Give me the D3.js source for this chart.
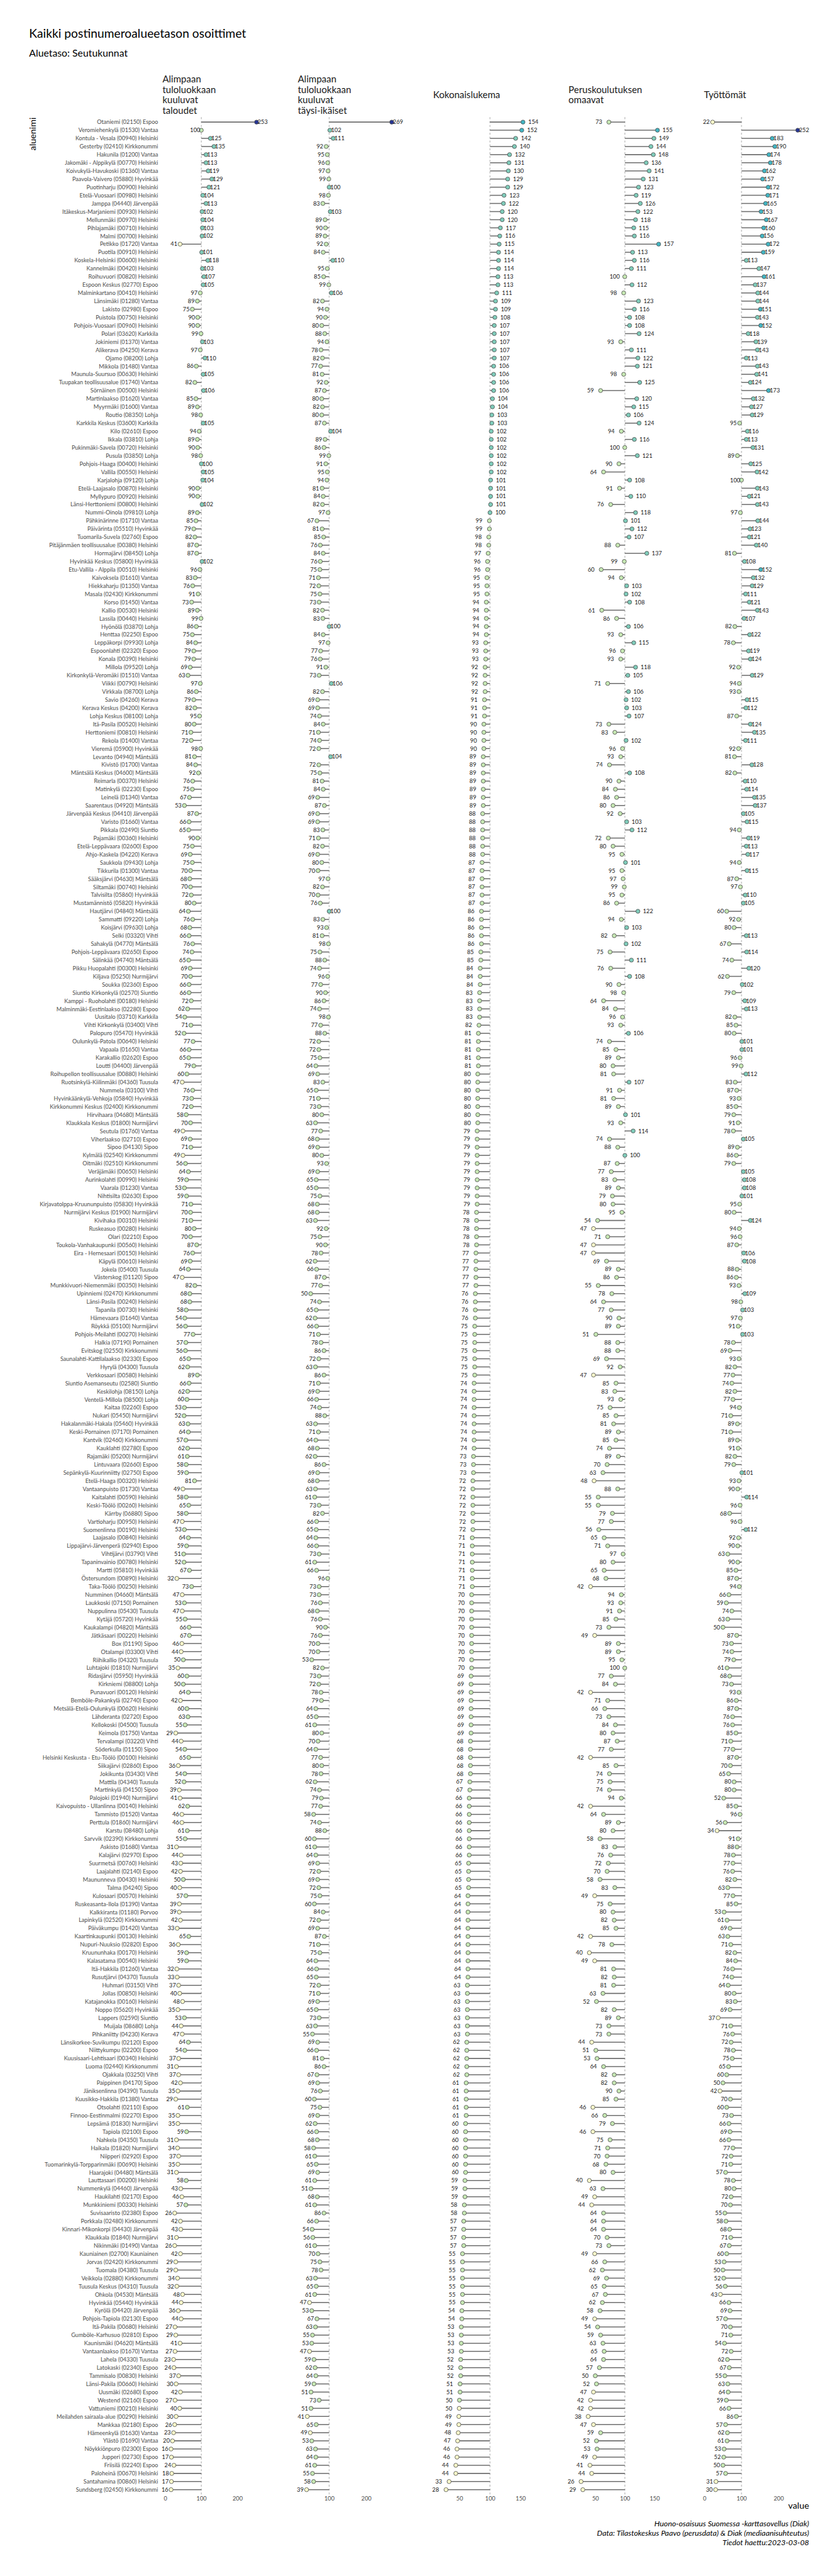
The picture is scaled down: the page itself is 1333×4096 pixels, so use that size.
<!DOCTYPE html>
<html><head><meta charset="utf-8">
<script src="https://cdn.jsdelivr.net/npm/d3@7"></script>
<style>
html,body{margin:0;padding:0;background:#fff;}
svg{display:block;font-family:Lato,"Noto Sans",sans-serif;}
</style></head><body>
<svg id="chart" width="1333" height="4096"></svg>
<script>
// ---------- DATA ----------
const names = [
"Otaniemi (02150) Espoo","Veromiehenkylä (01530) Vantaa","Kontula - Vesala (00940) Helsinki","Gesterby (02410) Kirkkonummi","Hakunila (01200) Vantaa","Jakomäki - Alppikylä (00770) Helsinki","Koivukylä-Havukoski (01360) Vantaa","Paavola-Vaivero (05880) Hyvinkää","Puotinharju (00900) Helsinki","Etelä-Vuosaari (00980) Helsinki",
"Jamppa (04440) Järvenpää","Itäkeskus-Marjaniemi (00930) Helsinki","Mellunmäki (00970) Helsinki","Pihlajamäki (00710) Helsinki","Malmi (00700) Helsinki","Petikko (01720) Vantaa","Puotila (00910) Helsinki","Koskela-Helsinki (00600) Helsinki","Kannelmäki (00420) Helsinki","Roihuvuori (00820) Helsinki",
"Espoon Keskus (02770) Espoo","Malminkartano (00410) Helsinki","Länsimäki (01280) Vantaa","Lakisto (02980) Espoo","Puistola (00750) Helsinki","Pohjois-Vuosaari (00960) Helsinki","Polari (03620) Karkkila","Jokiniemi (01370) Vantaa","Alikerava (04250) Kerava","Ojamo (08200) Lohja",
"Mikkola (01480) Vantaa","Maunula-Suursuo (00630) Helsinki","Tuupakan teollisuusalue (01740) Vantaa","Sörnäinen (00500) Helsinki","Martinlaakso (01620) Vantaa","Myyrmäki (01600) Vantaa","Routio (08350) Lohja","Karkkila Keskus (03600) Karkkila","Kilo (02610) Espoo","Ikkala (03810) Lohja",
"Pukinmäki-Savela (00720) Helsinki","Pusula (03850) Lohja","Pohjois-Haaga (00400) Helsinki","Vallila (00550) Helsinki","Karjalohja (09120) Lohja","Etelä-Laajasalo (00870) Helsinki","Myllypuro (00920) Helsinki","Länsi-Herttoniemi (00800) Helsinki","Nummi-Oinola (09810) Lohja","Pähkinärinne (01710) Vantaa",
"Päivärinta (05510) Hyvinkää","Tuomarila-Suvela (02760) Espoo","Pitäjänmäen teollisuusalue (00380) Helsinki","Hormajärvi (08450) Lohja","Hyvinkää Keskus (05800) Hyvinkää","Etu-Vallila - Alppila (00510) Helsinki","Kaivoksela (01610) Vantaa","Hiekkaharju (01350) Vantaa","Masala (02430) Kirkkonummi","Korso (01450) Vantaa",
"Kallio (00530) Helsinki","Lassila (00440) Helsinki","Hyönölä (03870) Lohja","Henttaa (02250) Espoo","Leppäkorpi (09930) Lohja","Espoonlahti (02320) Espoo","Konala (00390) Helsinki","Millola (09520) Lohja","Kirkonkylä-Veromäki (01510) Vantaa","Viikki (00790) Helsinki",
"Virkkala (08700) Lohja","Savio (04260) Kerava","Kerava Keskus (04200) Kerava","Lohja Keskus (08100) Lohja","Itä-Pasila (00520) Helsinki","Herttoniemi (00810) Helsinki","Rekola (01400) Vantaa","Vieremä (05900) Hyvinkää","Levanto (04940) Mäntsälä","Kivistö (01700) Vantaa",
"Mäntsälä Keskus (04600) Mäntsälä","Reimarla (00370) Helsinki","Matinkylä (02230) Espoo","Leinelä (01340) Vantaa","Saarentaus (04920) Mäntsälä","Järvenpää Keskus (04410) Järvenpää","Varisto (01660) Vantaa","Pikkala (02490) Siuntio","Pajamäki (00360) Helsinki","Etelä-Leppävaara (02600) Espoo",
"Ahjo-Kaskela (04220) Kerava","Saukkola (09430) Lohja","Tikkurila (01300) Vantaa","Sääksjärvi (04630) Mäntsälä","Siltamäki (00740) Helsinki","Talvisilta (05860) Hyvinkää","Mustamännistö (05820) Hyvinkää","Hautjärvi (04840) Mäntsälä","Sammatti (09220) Lohja","Koisjärvi (09630) Lohja",
"Selki (03320) Vihti","Sahakylä (04770) Mäntsälä","Pohjois-Leppävaara (02650) Espoo","Sälinkää (04740) Mäntsälä","Pikku Huopalahti (00300) Helsinki","Kiljava (05250) Nurmijärvi","Soukka (02360) Espoo","Siuntio Kirkonkylä (02570) Siuntio","Kamppi - Ruoholahti (00180) Helsinki","Malminmäki-Eestinlaakso (02280) Espoo",
"Uusitalo (03710) Karkkila","Vihti Kirkonkylä (03400) Vihti","Palopuro (05470) Hyvinkää","Oulunkylä-Patola (00640) Helsinki","Vapaala (01650) Vantaa","Karakallio (02620) Espoo","Loutti (04400) Järvenpää","Roihupellon teollisuusalue (00880) Helsinki","Ruotsinkylä-Kiilinmäki (04360) Tuusula","Nummela (03100) Vihti",
"Hyvinkäänkylä-Vehkoja (05840) Hyvinkää","Kirkkonummi Keskus (02400) Kirkkonummi","Hirvihaara (04680) Mäntsälä","Klaukkala Keskus (01800) Nurmijärvi","Seutula (01760) Vantaa","Viherlaakso (02710) Espoo","Sipoo (04130) Sipoo","Kylmälä (02540) Kirkkonummi","Oitmäki (02510) Kirkkonummi","Veräjämäki (00650) Helsinki",
"Aurinkolahti (00990) Helsinki","Vaarala (01230) Vantaa","Nihtisilta (02630) Espoo","Kirjavatolppa-Kruununpuisto (05830) Hyvinkää","Nurmijärvi Keskus (01900) Nurmijärvi","Kivihaka (00310) Helsinki","Ruskeasuo (00280) Helsinki","Olari (02210) Espoo","Toukola-Vanhakaupunki (00560) Helsinki","Eira - Hernesaari (00150) Helsinki",
"Käpylä (00610) Helsinki","Jokela (05400) Tuusula","Västerskog (01120) Sipoo","Munkkivuori-Niemenmäki (00350) Helsinki","Upinniemi (02470) Kirkkonummi","Länsi-Pasila (00240) Helsinki","Tapanila (00730) Helsinki","Hämevaara (01640) Vantaa","Röykkä (05100) Nurmijärvi","Pohjois-Meilahti (00270) Helsinki",
"Halkia (07190) Pornainen","Evitskog (02550) Kirkkonummi","Saunalahti-Kattilalaakso (02330) Espoo","Hyrylä (04300) Tuusula","Verkkosaari (00580) Helsinki","Siuntio Asemanseutu (02580) Siuntio","Keskilohja (08150) Lohja","Ventelä-Millola (08500) Lohja","Kaitaa (02260) Espoo","Nukari (05450) Nurmijärvi",
"Hakalanmäki-Hakala (05460) Hyvinkää","Keski-Pornainen (07170) Pornainen","Kantvik (02460) Kirkkonummi","Kauklahti (02780) Espoo","Rajamäki (05200) Nurmijärvi","Lintuvaara (02660) Espoo","Sepänkylä-Kuurinniitty (02750) Espoo","Etelä-Haaga (00320) Helsinki","Vantaanpuisto (01730) Vantaa","Kaitalahti (00590) Helsinki",
"Keski-Töölö (00260) Helsinki","Kärrby (06880) Sipoo","Vartioharju (00950) Helsinki","Suomenlinna (00190) Helsinki","Laajasalo (00840) Helsinki","Lippajärvi-Järvenperä (02940) Espoo","Vihtijärvi (03790) Vihti","Tapaninvainio (00780) Helsinki","Martti (05810) Hyvinkää","Östersundom (00890) Helsinki",
"Taka-Töölö (00250) Helsinki","Numminen (04660) Mäntsälä","Laukkoski (07150) Pornainen","Nuppulinna (05430) Tuusula","Kytäjä (05720) Hyvinkää","Kaukalampi (04820) Mäntsälä","Jätkäsaari (00220) Helsinki","Box (01190) Sipoo","Otalampi (03300) Vihti","Riihikallio (04320) Tuusula",
"Luhtajoki (01810) Nurmijärvi","Ridasjärvi (05950) Hyvinkää","Kirkniemi (08800) Lohja","Punavuori (00120) Helsinki","Bemböle-Pakankylä (02740) Espoo","Metsälä-Etelä-Oulunkylä (00620) Helsinki","Lähderanta (02720) Espoo","Kellokoski (04500) Tuusula","Keimola (01750) Vantaa","Tervalampi (03220) Vihti",
"Söderkulla (01150) Sipoo","Helsinki Keskusta - Etu-Töölö (00100) Helsinki","Siikajärvi (02860) Espoo","Jokikunta (03430) Vihti","Mattila (04340) Tuusula","Martinkylä (04150) Sipoo","Palojoki (01940) Nurmijärvi","Kaivopuisto - Ullanlinna (00140) Helsinki","Tammisto (01520) Vantaa","Perttula (01860) Nurmijärvi",
"Karstu (08480) Lohja","Sarvvik (02390) Kirkkonummi","Askisto (01680) Vantaa","Kalajärvi (02970) Espoo","Suurmetsä (00760) Helsinki","Laajalahti (02140) Espoo","Maununneva (00430) Helsinki","Talma (04240) Sipoo","Kulosaari (00570) Helsinki","Ruskeasanta-Ilola (01390) Vantaa",
"Kalkkiranta (01180) Porvoo","Lapinkylä (02520) Kirkkonummi","Päiväkumpu (01420) Vantaa","Kaartinkaupunki (00130) Helsinki","Nupuri-Nuuksio (02820) Espoo","Kruununhaka (00170) Helsinki","Kalasatama (00540) Helsinki","Itä-Hakkila (01260) Vantaa","Rusutjärvi (04370) Tuusula","Huhmari (03150) Vihti",
"Jollas (00850) Helsinki","Katajanokka (00160) Helsinki","Noppo (05620) Hyvinkää","Lappers (02590) Siuntio","Muijala (08680) Lohja","Pihkaniitty (04230) Kerava","Länsikorkee-Suvikumpu (02120) Espoo","Niittykumpu (02200) Espoo","Kuusisaari-Lehtisaari (00340) Helsinki","Luoma (02440) Kirkkonummi",
"Ojakkala (03250) Vihti","Paippinen (04170) Sipoo","Jäniksenlinna (04390) Tuusula","Kuusikko-Hakkila (01380) Vantaa","Otsolahti (02110) Espoo","Finnoo-Eestinmalmi (02270) Espoo","Lepsämä (01830) Nurmijärvi","Tapiola (02100) Espoo","Nahkela (04350) Tuusula","Haikala (01820) Nurmijärvi",
"Niipperi (02920) Espoo","Tuomarinkylä-Torpparinmäki (00690) Helsinki","Haarajoki (04480) Mäntsälä","Lauttasaari (00200) Helsinki","Nummenkylä (04460) Järvenpää","Haukilahti (02170) Espoo","Munkkiniemi (00330) Helsinki","Suvisaaristo (02380) Espoo","Porkkala (02480) Kirkkonummi","Kinnari-Mikonkorpi (04430) Järvenpää",
"Klaukkala (01840) Nurmijärvi","Nikinmäki (01490) Vantaa","Kauniainen (02700) Kauniainen","Jorvas (02420) Kirkkonummi","Tuomala (04380) Tuusula","Veikkola (02880) Kirkkonummi","Tuusula Keskus (04310) Tuusula","Ohkola (04530) Mäntsälä","Hyvinkää (05440) Hyvinkää","Kyrölä (04420) Järvenpää",
"Pohjois-Tapiola (02130) Espoo","Itä-Pakila (00680) Helsinki","Gumböle-Karhusuo (02810) Espoo","Kaunismäki (04620) Mäntsälä","Vantaanlaakso (01670) Vantaa","Lahela (04330) Tuusula","Latokaski (02340) Espoo","Tammisalo (00830) Helsinki","Länsi-Pakila (00660) Helsinki","Uusmäki (02680) Espoo",
"Westend (02160) Espoo","Vattuniemi (00210) Helsinki","Meilahden sairaala-alue (00290) Helsinki","Mankkaa (02180) Espoo","Hämeenkylä (01630) Vantaa","Ylästö (01690) Vantaa","Nöykkiönpuro (02300) Espoo","Jupperi (02730) Espoo","Friisilä (02240) Espoo","Paloheinä (00670) Helsinki",
"Santahamina (00860) Helsinki","Sundsberg (02450) Kirkkonummi"
];

// Alimpaan tuloluokkaan kuuluvat taloudet
const taloudet = [
253,99.8,125,135,113,113,119,129,121,104, 113,102,104,103,102,41,101,118,103,107,
105,97,89,75,90,90,99,103,97,110, 86,105,82,106,85,89,98,105,94,89,
90,98,100,105,104,90,90,102,89,85, 79,82,87,87,102,96,83,76,91,73,
89,99,86,75,84,79,79,69,63,97, 86,79,82,95,80,71,72,98,81,84,
92,76,75,67,53,87,66,65,90,75, 69,75,70,68,70,72,80,64,76,68,
66,76,74,65,69,70,66,66,72,62, 54,71,52,77,66,65,79,60,47,76,
73,72,58,70,49,69,71,49,56,64, 59,53,59,71,70,71,80,70,87,76,
69,64,47,82,68,68,58,54,56,77, 57,56,65,62,89,66,62,60,53,52,
63,64,57,62,61,58,59,81,49,58, 65,58,47,53,64,59,51,52,67,32,
73,47,53,47,55,66,67,46,44,50, 35,60,50,64,42,60,63,55,29,44,
54,65,36,54,52,39,41,62,46,46, 61,55,31,44,43,42,50,40,57,39,
39,42,33,65,36,59,59,32,33,37, 40,48,35,53,44,47,64,54,37,31,
37,42,35,29,61,35,35,59,31,34, 37,35,31,58,43,46,57,26,42,43,
31,26,42,29,29,34,32,48,44,36, 44,27,29,41,27,23,24,37,30,42,
27,40,30,26,23,20,16,17,24,18, 17,16
];

// Alimpaan tuloluokkaan kuuluvat täysi-ikäiset
const aikuiset = [
269,102,111,92,95,96,97,99,100,98, 83,103,89,90,89,92,84,110,95,85,
99,106,82,94,90,80,88,94,78,82, 77,81,92,87,80,82,80,87,104,89,
86,99,91,95,94,81,84,82,97,67, 81,85,76,84,76,75,71,72,75,73,
82,83,100,84,97,77,76,91,73,106, 82,69,69,74,84,71,74,72,104,72,
75,81,84,69,87,69,69,83,71,82, 69,80,70,97,82,70,76,100,83,93,
81,98,75,88,74,96,77,90,86,74, 98,77,88,72,72,75,64,69,83,65,
71,73,80,63,77,68,69,80,93,69, 65,65,75,68,68,63,92,75,90,78,
62,66,87,77,50,74,65,62,66,71, 78,86,72,63,86,71,69,66,74,88,
63,71,64,68,62,86,69,68,63,61, 73,82,66,65,64,66,73,61,66,96,
73,73,76,68,76,90,76,70,70,53, 82,73,72,78,79,64,65,61,80,70,
64,77,80,78,62,74,79,77,58,74, 88,60,61,64,69,72,69,72,75,60,
84,72,69,87,71,75,64,66,65,72, 71,69,65,73,63,55,69,66,81,86,
67,69,76,60,75,69,62,66,68,58, 61,65,69,61,51,68,61,86,66,54,
56,61,70,75,78,63,65,61,47,53, 67,63,55,53,47,59,62,64,59,51,
73,51,41,65,49,53,63,64,61,55, 58,39
];

// Kokonaislukema
const kokonais = [
154,152,142,140,132,131,130,129,129,123, 122,120,120,117,116,115,114,114,114,113,
113,111,109,109,108,107,107,107,107,107, 106,106,106,106,104,104,103,103,102,102,
102,102,102,102,101,101,101,101,100,99, 99,98,98,97,96,96,95,95,95,94,
94,94,94,94,93,93,93,92,92,92, 92,91,91,91,90,90,90,90,89,89,
89,89,89,89,89,88,88,88,88,88, 88,87,87,87,87,87,87,86,86,86,
86,86,85,85,84,84,84,83,83,83, 83,82,81,81,81,81,81,80,80,80,
80,80,80,80,79,79,79,79,79,79, 79,79,79,79,78,78,78,78,78,77,
77,77,77,77,76,76,76,76,75,75, 75,75,75,75,75,74,74,74,74,74,
74,74,74,74,73,73,73,72,72,72, 72,72,72,72,71,71,71,71,71,71,
71,70,70,70,70,70,70,70,70,70, 70,69,69,69,69,69,69,69,69,68,
68,68,68,68,67,67,66,66,66,66, 66,66,66,66,65,65,65,65,64,64,
64,64,64,64,64,64,64,64,64,63, 63,63,63,63,63,63,62,62,62,62,
62,61,61,61,61,61,60,60,60,60, 60,60,60,59,59,59,58,58,57,57,
57,57,55,55,55,55,55,55,55,54, 54,53,53,53,53,52,52,52,51,51,
50,49.6,49,49,48,47,46,46,44,44, 33,28
];

// Peruskoulutuksen omaavat
const perus = [
73,155,149,144,148,136,141,131,123,119, 126,122,118,115,116,157,113,116,111,99.8,
112,98,123,116,108,108,124,93,111,122, 121,98,125,59,120,115,106,124,94,116,
99.8,121,90,64,108,91,110,76,118,101, 112,107,88,137,99,60,94,103,102,108,
61,86,106,93,115,96,93,118,105,71, 106,102,103,107,73,83,102,96,93,74,
108,90,84,86,80,92,103,112,72,80, 95,101,95,97,99,95,86,122,94,103,
82,102,75,111,76,108,90,98,64,84, 96,93,106,74,85,89,80,81,107,91,
81,89,101,93,114,74,88,100,87,77, 83,89,79,80,95,54,47,71,47,47,
69,89,86,55,78,64,77,90,89,51, 88,88,69,92,47,85,83,93,75,85,
81,89,85,74,89,70,63,48,88,55, 55,79,77,56,65,71,97,80,65,68,
42,94,93,91,85,73,49,89,89,95, 99.8,77,84,42,71,66,73,84,80,87,
77,42,85,74,75,74,94,42,64,89, 80,58,83,76,72,70,58,83,49,75,
80,82,85,42,78,40,49,81,82,81, 63,52,82,89,73,73,44,51,53,64,
82,82,90,85,46,66,79,46,75,71, 70,68,80,40,63,49,44,64,64,64,
70,73,49,66,62,69,65,67,62,58, 49,54,59,63,65,64,57,50,52,47,
42,42,38,47,59,52,53,49,41,44, 26,29
];

// Työttömät
const tyottomat = [
22,252,183,190,174,178,162,157,172,171, 165,153,167,160,156,172,159,113,147,161,
137,144,144,151,143,152,118,139,143,113, 143,141,124,173,132,127,129,95,116,113,
131,89,125,142,99.8,143,121,143,97,144, 123,121,140,81,108,152,132,129,111,121,
143,107,82,122,78,119,124,92,129,94, 93,115,112,87,124,135,111,92,81,128,
82,110,114,135,137,105,115,94,119,113, 117,94,115,87,97,110,105,60,92,80,
113,67,114,74,120,62,102,79,109,113, 82,85,80,101,101,96,99,112,83,87,
93,85,79,91,78,105,89,86,79,105, 108,108,101,95,80,124,94,96,87,106,
108,88,86,93,109,98,103,97,91,103, 78,69,93,82,77,74,82,77,94,71,
89,71,89,91,82,79,101,93,90,114, 96,68,96,112,92,90,63,90,85,87,
94,66,59,74,63,50,87,73,74,79, 61,68,73,93,86,87,76,76,85,71,
77,87,70,65,80,80,52,85,96,56, 34,91,88,78,77,76,82,63,77,85,
53,61,69,63,71,82,84,76,74,64, 80,83,69,37,71,76,72,78,75,65,
60,50,42,70,60,73,66,69,66,77, 72,71,57,78,80,72,70,55,58,68,
71,67,60,53,50,52,56,43,66,69, 57,70,71,54,72,62,67,55,63,64,
59,66,86,57,62,61,53,52,50,57, 31,30
];

const panelTitles = [
  ["Alimpaan","tuloluokkaan","kuuluvat","taloudet"],
  ["Alimpaan","tuloluokkaan","kuuluvat","täysi-ikäiset"],
  ["Kokonaislukema"],
  ["Peruskoulutuksen","omaavat"],
  ["Työttömät"]
];
const panelTicks = [[0,100,200],[100,200],[50,100,150],[50,100,150],[0,100,200]];
const referenceValue = 100;
const colorBreaks = [50,100,150,200];
const colorRange = ["#ffffcc","#c7e9b4","#7fcdbb","#41b6c4","#253494"];
const titleText = "Kaikki postinumeroalueetason osoittimet";
const subtitleText = "Aluetaso: Seutukunnat";
const yTitle = "aluenimi";
const xTitle = "value";
const captionLines = [
  "Huono-osaisuus Suomessa -karttasovellus (Diak)",
  "Data: Tilastokeskus Paavo (perusdata) & Diak (mediaanisuhteutus)",
  "Tiedot haettu:2023-03-08"
];

// ---------- LAYOUT (reference pixel units, scaled) ----------
const S = 1333 / 1728;
const series = [taloudet, aikuiset, kokonais, perus, tyottomat];
const panelLeft0 = 330, panelStep = 279.1, panelW = 221.7;
const rowTop = 241.6, rowBottom = 5141.9;
const nudge = 17;

const svg = d3.select("#chart");
const g = svg.append("g").attr("transform", `scale(${S})`);

const color = d3.scaleThreshold().domain(colorBreaks).range(colorRange);
const y = d3.scalePoint().domain(d3.range(names.length)).range([rowTop, rowBottom]).padding(0.6);

// titles
g.append("text").attr("x", 60).attr("y", 77.7).attr("font-size", 25).attr("fill", "#000").text(titleText);
g.append("text").attr("x", 60).attr("y", 116.7).attr("font-size", 20.5).attr("fill", "#000").text(subtitleText);

// y-axis title (top-left, rotated)
g.append("text").attr("transform", "translate(73.5,242) rotate(-90)")
  .attr("text-anchor", "end").attr("font-size", 18.5).attr("fill", "#000").text(yTitle);

// row labels
const yAxis = d3.axisLeft(y).tickSize(0).tickPadding(4).tickFormat(i => names[i]);
const ya = g.append("g").attr("transform", `translate(${panelLeft0},0)`).call(yAxis);
ya.select(".domain").remove();
ya.selectAll("text").attr("font-size", 11.8).attr("fill", "#4d4d4d").attr("font-family", "Lato");

series.forEach((vals, p) => {
  const left = panelLeft0 + p * panelStep;
  let lo = d3.min(vals) - nudge, hi = d3.max(vals) + nudge;
  const pad = (hi - lo) * 0.05;
  const x = d3.scaleLinear().domain([lo - pad, hi + pad]).range([left, left + panelW]);
  const pg = g.append("g");

  // strip title
  const lines = panelTitles[p];
  const lh = 21.4, mid = 202.5;
  const st = pg.append("text").attr("font-size", 19.5).attr("fill", "#1a1a1a");
  lines.forEach((l, k) => {
    st.append("tspan").attr("x", left + 5).attr("y", mid - (lines.length - 1) * lh / 2 + k * lh).text(l);
  });

  // reference line
  pg.append("line").attr("x1", x(referenceValue)).attr("x2", x(referenceValue))
    .attr("y1", rowTop).attr("y2", rowBottom)
    .attr("stroke", "#c4c4c4").attr("stroke-width", 2).attr("stroke-dasharray", "4,4");

  const rows = vals.map((v, i) => ({v, i}));
  pg.selectAll("line.seg").data(rows).join("line").attr("class", "seg")
    .attr("x1", x(referenceValue)).attr("x2", d => x(d.v))
    .attr("y1", d => y(d.i)).attr("y2", d => y(d.i))
    .attr("stroke", "#6e6e6e").attr("stroke-width", 2);

  pg.selectAll("circle").data(rows).join("circle")
    .attr("cx", d => x(d.v)).attr("cy", d => y(d.i)).attr("r", 4.2)
    .attr("fill", d => color(d.v)).attr("stroke", "#505050").attr("stroke-width", 1.1);

  pg.selectAll("text.val").data(rows).join("text").attr("class", "val")
    .attr("x", d => x(d.v >= referenceValue ? d.v + nudge : d.v - nudge))
    .attr("y", d => y(d.i)).attr("dy", "0.35em")
    .attr("text-anchor", "middle").attr("font-size", 12).attr("fill", "#1a1a1a")
    .text(d => d3.format("d")(Math.round(d.v)));

  // x axis
  const xa = pg.append("g").attr("transform", `translate(0,${rowBottom})`)
    .call(d3.axisBottom(x).tickValues(panelTicks[p]).tickSize(0).tickPadding(4).tickFormat(d3.format("d")));
  xa.select(".domain").remove();
  xa.selectAll("text").attr("font-size", 12).attr("fill", "#4d4d4d").attr("font-family", "Lato");
});

// x-axis title
g.append("text").attr("x", 1668.3).attr("y", 5170.7).attr("text-anchor", "end")
  .attr("font-size", 18.5).attr("fill", "#000").text(xTitle);

// caption
captionLines.forEach((c, k) => {
  g.append("text").attr("x", 1668.3).attr("y", 5207.3 + k * 19.2).attr("text-anchor", "end")
    .attr("font-size", 16).attr("font-style", "italic").attr("fill", "#000").text(c);
});
</script>
</body></html>
